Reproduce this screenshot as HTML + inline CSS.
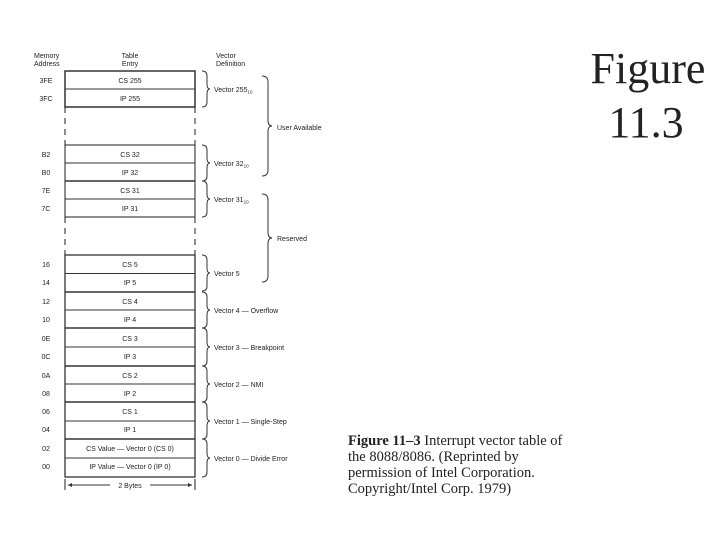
<!DOCTYPE html>
<html><head><meta charset="utf-8"><style>
html,body{margin:0;padding:0;background:#fff;width:720px;height:540px;overflow:hidden}
svg{display:block}
.s{font-family:"Liberation Sans",sans-serif;font-size:7px;fill:#222}
.r{font-family:"Liberation Serif",serif;fill:#222}
</style></head><body>
<svg width="720" height="540" viewBox="0 0 720 540" xmlns="http://www.w3.org/2000/svg">
<text class="r" x="648" y="83" font-size="44" text-anchor="middle" fill="#000">Figure</text>
<text class="r" x="646" y="137" font-size="44" text-anchor="middle" fill="#000">11.3</text>

<g class="s">
<text x="34" y="58">Memory</text><text x="34" y="66">Address</text>
<text x="130" y="58" text-anchor="middle">Table</text><text x="130" y="66" text-anchor="middle">Entry</text>
<text x="216" y="58">Vector</text><text x="216" y="66">Definition</text>
</g>

<g stroke="#333" fill="none" stroke-width="1.1">
<rect x="65" y="71" width="130" height="36" stroke-width="1.5"/><line x1="65" y1="89" x2="195" y2="89"/>
<line x1="65" y1="107" x2="65" y2="145" stroke-dasharray="6,5"/><line x1="195" y1="107" x2="195" y2="145" stroke-dasharray="6,5"/>
<rect x="65" y="145" width="130" height="72"/><line x1="65" y1="163" x2="195" y2="163"/><line x1="65" y1="181" x2="195" y2="181" stroke-width="1.5"/><line x1="65" y1="199" x2="195" y2="199"/>
<line x1="65" y1="217" x2="65" y2="255" stroke-dasharray="6,5"/><line x1="195" y1="217" x2="195" y2="255" stroke-dasharray="6,5"/>
<rect x="65" y="255" width="130" height="222" stroke-width="1.3"/>
<line x1="65" y1="273.5" x2="195" y2="273.5"/><line x1="65" y1="292" x2="195" y2="292" stroke-width="1.5"/>
<line x1="65" y1="310" x2="195" y2="310"/><line x1="65" y1="328" x2="195" y2="328" stroke-width="1.5"/>
<line x1="65" y1="347" x2="195" y2="347"/><line x1="65" y1="366" x2="195" y2="366" stroke-width="1.5"/>
<line x1="65" y1="384" x2="195" y2="384"/><line x1="65" y1="402" x2="195" y2="402" stroke-width="1.5"/>
<line x1="65" y1="421" x2="195" y2="421"/><line x1="65" y1="439" x2="195" y2="439" stroke-width="1.5"/>
<line x1="65" y1="458" x2="195" y2="458"/>
<line x1="65" y1="479" x2="65" y2="490"/><line x1="195" y1="479" x2="195" y2="490"/>
<line x1="68" y1="485" x2="110" y2="485"/><line x1="150" y1="485" x2="192" y2="485"/>
</g>
<path d="M68 485 l4 -2 v4 z M192 485 l-4 -2 v4z" fill="#333"/>

<g class="s" text-anchor="middle">
<text x="46" y="83">3FE</text><text x="46" y="101">3FC</text>
<text x="46" y="157">B2</text><text x="46" y="175">B0</text>
<text x="46" y="193">7E</text><text x="46" y="211">7C</text>
<text x="46" y="267">16</text><text x="46" y="285">14</text>
<text x="46" y="304">12</text><text x="46" y="322">10</text>
<text x="46" y="341">0E</text><text x="46" y="359">0C</text>
<text x="46" y="378">0A</text><text x="46" y="396">08</text>
<text x="46" y="414">06</text><text x="46" y="432">04</text>
<text x="46" y="451">02</text><text x="46" y="469">00</text>
<text x="130" y="83">CS 255</text><text x="130" y="101">IP 255</text>
<text x="130" y="157">CS 32</text><text x="130" y="175">IP 32</text>
<text x="130" y="193">CS 31</text><text x="130" y="211">IP 31</text>
<text x="130" y="267">CS 5</text><text x="130" y="285">IP 5</text>
<text x="130" y="304">CS 4</text><text x="130" y="322">IP 4</text>
<text x="130" y="341">CS 3</text><text x="130" y="359">IP 3</text>
<text x="130" y="378">CS 2</text><text x="130" y="396">IP 2</text>
<text x="130" y="414">CS 1</text><text x="130" y="432">IP 1</text>
<text x="130" y="451">CS Value — Vector 0 (CS 0)</text><text x="130" y="469">IP Value — Vector 0 (IP 0)</text>
<text x="130" y="488">2 Bytes</text>
</g>

<g stroke="#333" fill="none" stroke-width="1">
<path d="M202 71 q5 0 5 5 v8 q0 5 3 5 q-3 0 -3 5 v8 q0 5 -5 5"/>
<path d="M202 145 q5 0 5 5 v8 q0 5 3 5 q-3 0 -3 5 v8 q0 5 -5 5"/>
<path d="M202 181 q5 0 5 5 v8 q0 5 3 5 q-3 0 -3 5 v8 q0 5 -5 5"/>
<path d="M202 255 q5 0 5 5 v8 q0 5 3 5 q-3 0 -3 5 v8 q0 5 -5 5"/>
<path d="M202 292 q5 0 5 5 v8 q0 5 3 5 q-3 0 -3 5 v8 q0 5 -5 5"/>
<path d="M202 328 q5 0 5 5 v9 q0 5 3 5 q-3 0 -3 5 v9 q0 5 -5 5"/>
<path d="M202 366 q5 0 5 5 v8 q0 5 3 5 q-3 0 -3 5 v8 q0 5 -5 5"/>
<path d="M202 402 q5 0 5 5 v9 q0 5 3 5 q-3 0 -3 5 v8 q0 5 -5 5"/>
<path d="M202 439 q5 0 5 5 v9 q0 5 3 5 q-3 0 -3 5 v9 q0 5 -5 5"/>
<path d="M262 76 q6 0 6 6 v38 q0 6 4 6 q-4 0 -4 6 v38 q0 6 -6 6"/>
<path d="M262 194 q6 0 6 6 v32 q0 6 4 6 q-4 0 -4 6 v32 q0 6 -6 6"/>
</g>

<g class="s">
<text x="214" y="92">Vector 255<tspan font-size="4.5" dy="1.5">10</tspan></text>
<text x="214" y="166">Vector 32<tspan font-size="4.5" dy="1.5">10</tspan></text>
<text x="214" y="202">Vector 31<tspan font-size="4.5" dy="1.5">10</tspan></text>
<text x="214" y="276">Vector 5</text>
<text x="214" y="313">Vector 4 — Overflow</text>
<text x="214" y="350">Vector 3 — Breakpoint</text>
<text x="214" y="387">Vector 2 — NMI</text>
<text x="214" y="424">Vector 1 — Single-Step</text>
<text x="214" y="461">Vector 0 — Divide Error</text>
<text x="277" y="130">User Available</text>
<text x="277" y="241">Reserved</text>
</g>

<g class="r" font-size="14.5">
<text x="348" y="445"><tspan font-weight="bold">Figure 11–3</tspan>   Interrupt vector table of</text>
<text x="348" y="461">the 8088/8086. (Reprinted by</text>
<text x="348" y="477">permission of Intel Corporation.</text>
<text x="348" y="493">Copyright/Intel Corp. 1979)</text>
</g>
</svg>
</body></html>
